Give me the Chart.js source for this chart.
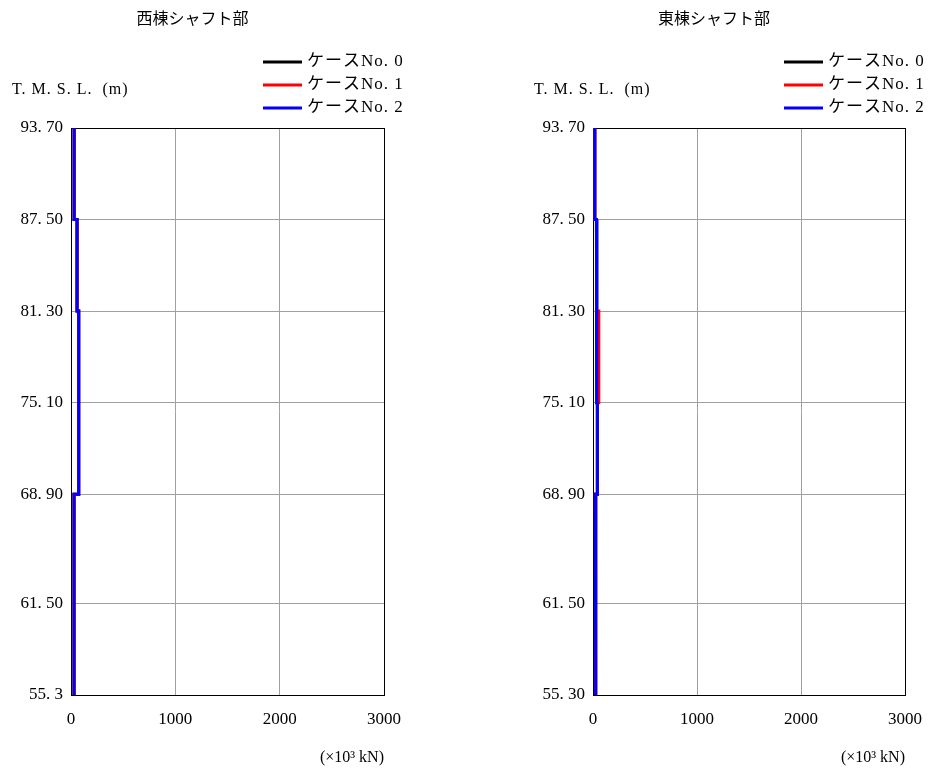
<!DOCTYPE html>
<html lang="ja">
<head>
<meta charset="utf-8">
<title>シャフト部</title>
<script src="https://cdn.jsdelivr.net/npm/chart.js@4.4.1/dist/chart.umd.min.js"></script>
<style>
  html, body { margin: 0; padding: 0; background: #fff; }
  #wrap { position: relative; width: 933px; height: 771px; }
  #wrap canvas { position: absolute; top: 0; }
  #west { left: 0; }
  #east { left: 466px; }
</style>
</head>
<body>
<div id="wrap">
  <canvas id="west" width="466" height="771"></canvas>
  <canvas id="east" width="467" height="771"></canvas>
</div>
<script>
// T.M.S.L. levels (m), top to bottom
const depthTicks = [93.7, 87.5, 81.3, 75.1, 68.9, 61.5, 55.3];
const westDepthLabels = ["93. 70", "87. 50", "81. 30", "75. 10", "68. 90", "61. 50", "55. 3"];
const eastDepthLabels = ["93. 70", "87. 50", "81. 30", "75. 10", "68. 90", "61. 50", "55. 30"];
const forceTicks = [0, 1000, 2000, 3000];

const caseNames = ["ケースNo. 0", "ケースNo. 1", "ケースNo. 2"];
const caseColors = ["#000000", "#ff0000", "#0000ff"];

// one value per layer between consecutive levels (×10³ kN)
const westCase0 = [30, 58, 74, 74, 29, 29];
const westCase1 = [30, 58, 74, 74, 29, 29];
const westCase2 = [30, 58, 74, 74, 29, 29];
const eastCase0 = [17, 33, 38, 42, 22, 28];
const eastCase1 = [18, 34, 56, 42, 22, 28];
const eastCase2 = [17, 33, 38, 42, 22, 28];

const serif = '"Liberation Serif", "DejaVu Serif", "Noto Sans CJK JP", serif';
const jpFont = '"Noto Sans CJK JP", "Liberation Serif", serif';

const stepPoints = (values) =>
  values.flatMap((v, i) => [
    { x: v, y: depthTicks[i] },
    { x: v, y: depthTicks[i + 1] },
  ]);

const framePlugin = {
  id: "frame",
  beforeDatasetsDraw(chart) {
    const { ctx, chartArea: a } = chart;
    ctx.save();
    ctx.strokeStyle = "#000";
    ctx.lineWidth = 1;
    ctx.strokeRect(a.left + 0.5, a.top + 0.5, a.right - a.left, a.bottom - a.top);
    ctx.restore();
  },
  afterDraw(chart, args, opts) {
    const { ctx, chartArea: a } = chart;
    ctx.save();
    ctx.fillStyle = "#000";
    // title
    ctx.font = "16px " + jpFont;
    ctx.textAlign = "center";
    ctx.textBaseline = "middle";
    ctx.fillText(opts.title, (a.left + a.right) / 2 - 35, 18);
    // legend
    const rows = [62, 85, 108];
    chart.data.datasets.forEach((ds, i) => {
      const y = rows[i];
      ctx.strokeStyle = ds.borderColor;
      ctx.lineWidth = 3;
      ctx.beginPath();
      ctx.moveTo(a.right - 121, y);
      ctx.lineTo(a.right - 82, y);
      ctx.stroke();
      ctx.fillStyle = "#000";
      ctx.font = "17px " + serif;
      ctx.letterSpacing = "1px";
      ctx.textAlign = "left";
      ctx.fillText(ds.label, a.right - 77, y);
    });
    // axis captions
    ctx.font = "16px " + serif;
    ctx.letterSpacing = "1px";
    ctx.textAlign = "left";
    ctx.fillText("T. M. S. L.  (m)", a.left - 59, 90);
    ctx.letterSpacing = "0px";
    ctx.textAlign = "right";
    ctx.fillText("(×10³ kN)", a.right, 758);
    ctx.restore();
  },
};

function makeChart(canvasId, title, depthLabels, series, padding) {
  const datasets = series.map((values, i) => ({
    label: caseNames[i],
    data: stepPoints(values),
    borderColor: caseColors[i],
    backgroundColor: caseColors[i],
    borderWidth: 3,
    pointRadius: 0,
    showLine: true,
    tension: 0,
    order: series.length - i,
  }));
  return new Chart(document.getElementById(canvasId), {
    type: "scatter",
    data: { datasets },
    plugins: [framePlugin],
    options: {
      responsive: false,
      animation: false,
      devicePixelRatio: 1,
      layout: { padding },
      plugins: {
        legend: { display: false },
        tooltip: { enabled: false },
        frame: { title },
      },
      scales: {
        x: {
          type: "linear",
          min: forceTicks[0],
          max: forceTicks[forceTicks.length - 1],
          afterBuildTicks: (scale) => { scale.ticks = forceTicks.map((v) => ({ value: v })); },
          afterFit: (scale) => {
            scale.height = 76;
            scale.paddingLeft = 0;
            scale.paddingRight = 0;
          },
          border: { display: false },
          grid: { color: "#a0a0a0", drawTicks: false },
          ticks: {
            padding: 14,
            color: "#000",
            font: { family: serif, size: 17 },
            callback: (value) => String(value),
          },
        },
        y: {
          type: "linear",
          min: depthTicks[depthTicks.length - 1],
          max: depthTicks[0],
          afterBuildTicks: (scale) => { scale.ticks = depthTicks.map((v) => ({ value: v })); },
          afterFit: (scale) => { scale.width = 71; },
          border: { display: false },
          grid: { color: "#a0a0a0", drawTicks: false },
          ticks: {
            padding: 8,
            autoSkip: false,
            color: "#000",
            font: { family: serif, size: 17 },
            callback: (value) => depthLabels[depthTicks.indexOf(value)],
          },
        },
      },
    },
  });
}

makeChart("west", "西棟シャフト部", westDepthLabels, [westCase0, westCase1, westCase2],
  { top: 128, right: 82, left: 0, bottom: 0 });
makeChart("east", "東棟シャフト部", eastDepthLabels, [eastCase0, eastCase1, eastCase2],
  { top: 128, right: 28, left: 56, bottom: 0 });
</script>
</body>
</html>
